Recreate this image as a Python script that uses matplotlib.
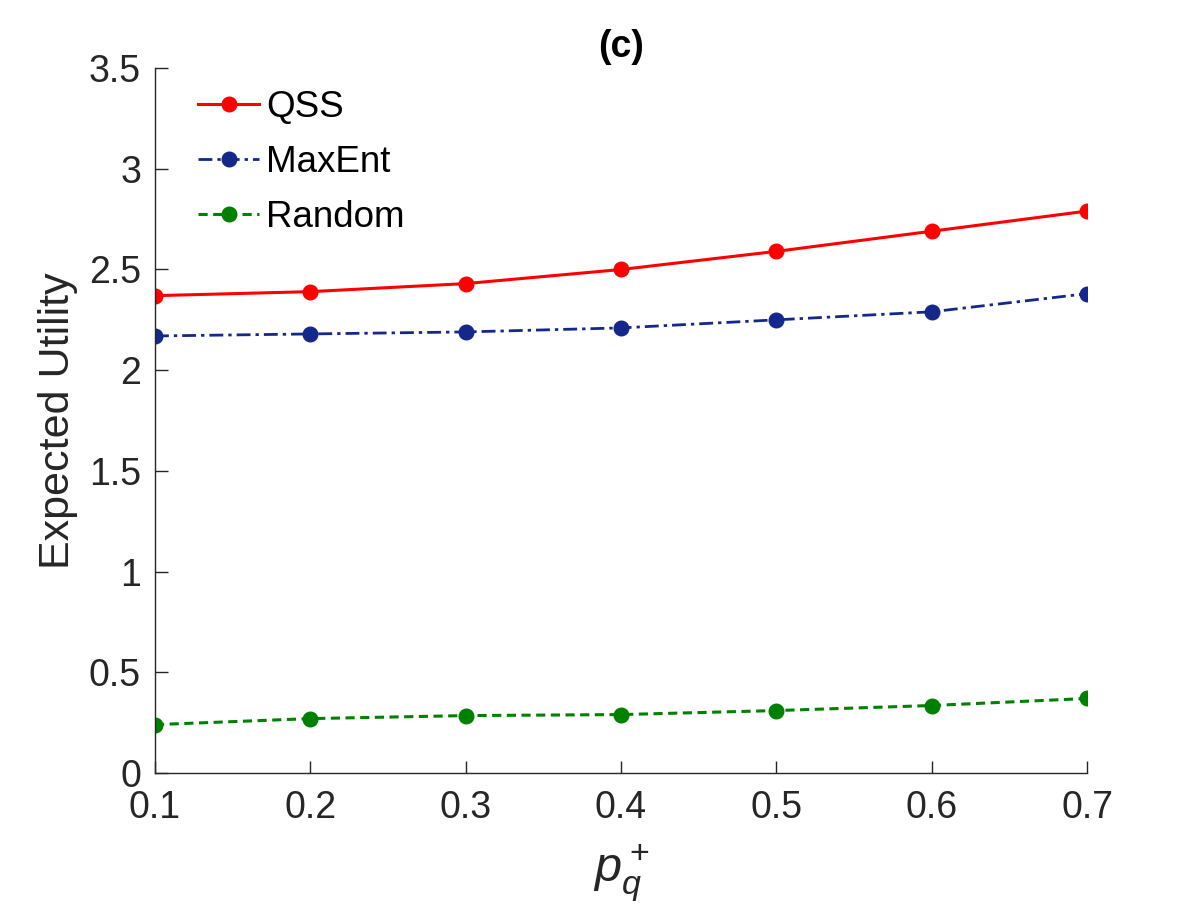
import matplotlib
matplotlib.use("Agg")
import matplotlib.pyplot as plt

plt.rcParams['font.family'] = ['Liberation Sans', 'DejaVu Sans']
plt.rcParams['mathtext.fontset'] = 'custom'
plt.rcParams['mathtext.it'] = 'Liberation Sans:italic'
plt.rcParams['mathtext.rm'] = 'Liberation Sans'

# data
p_plus = [0.1, 0.2, 0.3, 0.4, 0.5, 0.6, 0.7]
qss = [2.37, 2.39, 2.43, 2.50, 2.59, 2.69, 2.79]
maxent = [2.17, 2.18, 2.19, 2.21, 2.25, 2.29, 2.38]
rand_util = [0.24, 0.27, 0.285, 0.29, 0.31, 0.335, 0.37]

yticks = [0, 0.5, 1, 1.5, 2, 2.5, 3, 3.5]
ytick_labels = ['0', '0.5', '1', '1.5', '2', '2.5', '3', '3.5']

fig = plt.figure(figsize=(11.92, 9.08), dpi=100)
ax = fig.add_axes([0.130, 0.1487, 0.782, 0.7763])

ax.plot(p_plus, qss, color='#ff0000', lw=2.2, marker='o', ms=10.5, label='QSS')
ax.plot(p_plus, maxent, color='#14288c', lw=2.0, ls=(0, (5, 1.8, 1.2, 1.8)),
        marker='o', ms=10.5, label='MaxEnt')
ax.plot(p_plus, rand_util, color='#008000', lw=2.2, ls=(0, (3, 1.8)),
        marker='o', ms=10.5, label='Random')

ax.set_xlim(0.1, 0.7)
ax.set_ylim(0, 3.5)
ax.set_xticks(p_plus)
ax.set_xticklabels([f'{v:.1f}' for v in p_plus])
ax.set_yticks(yticks)
ax.set_yticklabels(ytick_labels)

for s in ['top', 'right']:
    ax.spines[s].set_visible(False)
for s in ['left', 'bottom']:
    ax.spines[s].set_color('#262626')
    ax.spines[s].set_linewidth(1.0)

ax.tick_params(direction='in', length=9, width=1.0, colors='#262626',
               labelsize=27)
ax.tick_params(axis='y', pad=10)
ax.tick_params(axis='x', pad=12)

ax.set_ylabel('Expected Utility', fontsize=31, color='#262626', labelpad=8)
ax.set_xlabel(r'$p_q^+$', fontsize=35, color='#262626', labelpad=12)
ax.set_title('(c)', fontsize=27, fontweight='bold', pad=8)

leg = ax.legend(loc='upper left', frameon=False, fontsize=26.5,
                handlelength=1.65, handletextpad=0.2, labelspacing=0.55,
                borderaxespad=0, borderpad=0.4,
                bbox_to_anchor=(0.0307, 0.99))

fig.savefig('out.png', dpi=100)
